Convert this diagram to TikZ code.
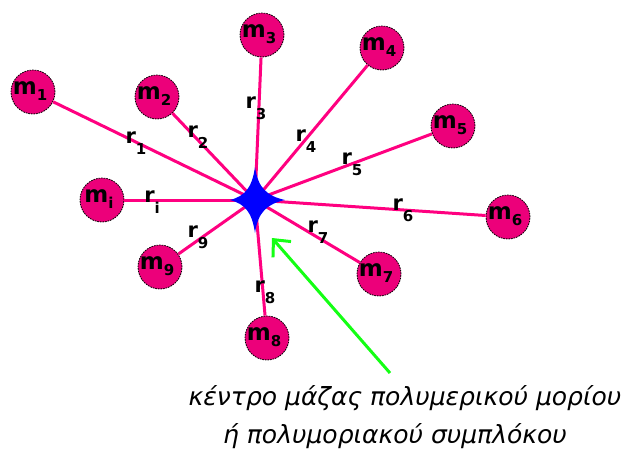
\documentclass[tikz,border=0pt]{standalone}
\usepackage{fontspec}
\setmainfont{DejaVu Sans}
\newfontfamily\capfont{DejaVu Sans}
\usetikzlibrary{arrows.meta}

\definecolor{massfill}{RGB}{236,0,122}
\definecolor{bondpink}{RGB}{255,0,128}
\definecolor{starblue}{RGB}{0,0,255}
\definecolor{arrowgreen}{RGB}{20,255,20}

% symbols with a lowered subscript
\newcommand\masssub[1]{m\raisebox{-6pt}{\fontsize{15}{15}\selectfont #1}}
\newcommand\radsub[1]{r\raisebox{-11pt}{\fontsize{15}{15}\selectfont #1}}

\begin{document}
\begin{tikzpicture}[x=1pt,y=-1pt,
  mass/.style={circle, minimum size=44pt, inner sep=0pt, fill=massfill,
    draw=black, line width=0.8pt, dash pattern=on 1.6pt off 1pt},
  masslabel/.style={font=\fontsize{23}{23}\selectfont\bfseries, inner sep=0pt},
  bond/.style={draw=bondpink, line width=3pt},
  bondlabel/.style={font=\fontsize{21}{21}\selectfont\bfseries, inner sep=0pt},
  pointer/.style={draw=arrowgreen, line width=3pt,
    -{Straight Barb[length=13pt,width=24pt,line width=3pt]}},
  caption/.style={font=\capfont\itshape\fontsize{25}{25}\selectfont, anchor=base, inner sep=0pt},
]
\useasboundingbox (0,0) rectangle (630,451);

% centre of mass
\coordinate (c) at (255,200);

% the masses
\node[mass] (m1) at (33,92)  {};
\node[mass] (m2) at (157,97) {};
\node[mass] (m3) at (262,35) {};
\node[mass] (m4) at (382,48) {};
\node[mass] (m5) at (453,126) {};
\node[mass] (m6) at (508,217) {};
\node[mass] (m7) at (379,274) {};
\node[mass] (m8) at (267,338) {};
\node[mass] (mi) at (102,200) {};
\node[mass] (m9) at (160,267) {};

\foreach \n/\s in {m1/1,m2/2,m3/3,m4/4,m5/5,m6/6,m7/7,m8/8,mi/i,m9/9}
  \node[masslabel] at ([xshift=-3pt,yshift=1pt]\n.center) {\masssub{\s}};

% position vectors
\foreach \n in {m1,m2,m3,m4,m5,m6,m7,m8,mi,m9}
  \draw[bond] (c) -- (\n);

\node[bondlabel] (r1) at (136,143) {\radsub{1}};
\node[bondlabel] (r2) at (198,137) {\radsub{2}};
\node[bondlabel] (r3) at (256,108) {\radsub{3}};
\node[bondlabel] (r4) at (306,141) {\radsub{4}};
\node[bondlabel] (r5) at (352,164) {\radsub{5}};
\node[bondlabel] (r6) at (403,210) {\radsub{6}};
\node[bondlabel] (r7) at (318,232) {\radsub{7}};
\node[bondlabel] (ri) at (152,202) {\radsub{i}};
\node[bondlabel] (r9) at (198,237) {\radsub{9}};
\node[bondlabel] (r8) at (265,292) {\radsub{8}};

% four-pointed star at the centre
\fill[starblue] ([shift={(0,-33)}]c)
  .. controls ([shift={(3,-12)}]c) and ([shift={(12,-4)}]c) .. ([shift={(30,0)}]c)
  .. controls ([shift={(12,4)}]c) and ([shift={(3,12)}]c) .. ([shift={(0,33)}]c)
  .. controls ([shift={(-3,12)}]c) and ([shift={(-10,4)}]c) .. ([shift={(-25,0)}]c)
  .. controls ([shift={(-10,-4)}]c) and ([shift={(-3,-12)}]c) .. cycle;

% pointer to the centre of mass
\coordinate (tail) at (390,373);
\coordinate (tip) at (272,238);
\draw[pointer] (tail) -- (tip);

\node[caption] (cap1) at (405,405) {κέντρο μάζας πολυμερικού μορίου};
\node[caption] (cap2) at (395,443) {ή πολυμοριακού συμπλόκου};
\end{tikzpicture}
\end{document}
